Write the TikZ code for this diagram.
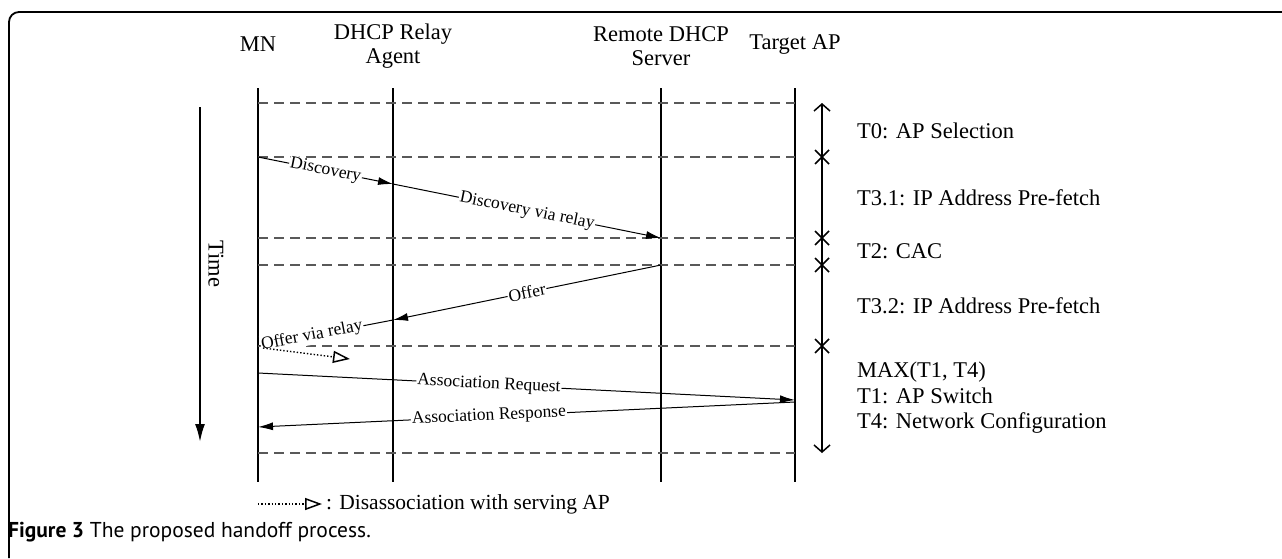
\documentclass[tikz,border=0pt]{standalone}
\usepackage{fontspec}
\setmainfont{Liberation Serif}
\newfontfamily\capfont{PT Sans}
\usetikzlibrary{arrows.meta}
\begin{document}
\begin{tikzpicture}[x=1pt,y=-1pt,
  head/.style={font=\fontsize{22.5}{24}\selectfont, align=center, inner sep=0pt},
  life/.style={line width=1.6pt},
  phase/.style={line width=1.3pt, draw=black!65, dash pattern=on 10pt off 6pt},
  msg/.style={line width=1pt, -{Latex[length=15pt,width=8pt]}},
  mlabel/.style={sloped, fill=white, inner sep=1pt, font=\fontsize{17.5}{20}\selectfont},
  side/.style={anchor=west, font=\fontsize{22.5}{25.5}\selectfont, inner sep=0pt},
  tick/.style={line width=1.5pt},
  disc/.style={dotted, line width=1.4pt, -{Triangle[open,length=17pt,width=12pt,line width=1.5pt]}},
]
\useasboundingbox (0,0) rectangle (1282,558);

% frame
\draw[line width=1.8pt, rounded corners=10pt] (9,558) -- (9,12) -- (1282,12);

% headers
\node[head] (hMN) at (258,44) {MN};
\node[head] (hRA) at (393,46) {DHCP Relay\\Agent};
\node[head] (hRS) at (661,46) {Remote DHCP\\Server};
\node[head] (hAP) at (795,44) {Target AP};

% lifelines
\foreach \n/\x in {mn/258, ra/393, rs/661, ap/795} {
  \coordinate (\n top) at (\x,88);
  \coordinate (\n bot) at (\x,482);
  \draw[life] (\n top) -- (\n bot);
}

% phase separators
\foreach \i/\y in {0/103, 1/157, 2/238, 3/265, 4/346, 5/453} {
  \coordinate (L\i) at (258,\y);
  \coordinate (R\i) at (795,\y);
  \draw[phase] (L\i) -- (R\i);
}

% message end points
\coordinate (m1) at (258,157);
\coordinate (a1) at (393,184);
\coordinate (s1) at (661,238);
\coordinate (s2) at (661,265);
\coordinate (a2) at (393,320);
\coordinate (m2) at (258,346);
\coordinate (m3) at (258,373);
\coordinate (p1) at (795,400);
\coordinate (p2) at (795,402);
\coordinate (m4) at (258,427);
\coordinate (d0) at (263,348);
\coordinate (d1) at (350,359);

% messages
\draw[msg] (m1) -- node[mlabel,pos=0.5] {Discovery} (a1);
\draw[msg] (a1) -- node[mlabel,pos=0.5] {Discovery via relay} (s1);
\draw[msg] (s2) -- node[mlabel,pos=0.5] {Offer} (a2);
\draw[msg] (a2) -- node[mlabel,pos=0.6] {Offer via relay} (m2);
\draw[disc] (d0) -- (d1);
\draw[msg] (m3) -- node[mlabel,pos=0.43] {Association Request} (p1);
\draw[msg] (p2) -- node[mlabel,pos=0.57] {Association Response} (m4);

% time direction
\coordinate (t0) at (200,107);
\coordinate (t1) at (200,442);
\draw[line width=2pt, -{Latex[length=18pt,width=10pt]}] (t0) -- (t1);
\node[rotate=-90, font=\fontsize{22.5}{24}\selectfont] (time) at (216,264) {Time};

% phase durations
\coordinate (k0) at (822,103);
\coordinate (k5) at (822,453);
\draw[tick, {Straight Barb[length=7pt,width=16pt]}-{Straight Barb[length=7pt,width=16pt]}] (k0) -- (k5);
\foreach \y in {157, 238, 265, 346} {
  \draw[tick] (815,\y-7) -- (829,\y+7);
  \draw[tick] (815,\y+7) -- (829,\y-7);
}
\node[side] (t0lab) at (857,131) {T0: AP Selection};
\node[side] (t31lab) at (857,198) {T3.1: IP Address Pre-fetch};
\node[side] (t2lab) at (857,251) {T2: CAC};
\node[side] (t32lab) at (857,306) {T3.2: IP Address Pre-fetch};
\node[side, align=left] (maxlab) at (857,398) {MAX(T1, T4)\\T1: AP Switch\\T4: Network Configuration};

% legend
\coordinate (g0) at (258,504);
\coordinate (g1) at (322,504);
\draw[disc] (g0) -- (g1);
\node[side, font=\fontsize{21.5}{24}\selectfont] (leg) at (326,504) {: Disassociation with serving AP};

% caption
\node[anchor=west, inner sep=0pt, font=\capfont\fontsize{21.5}{24}\selectfont] (cap) at (8,532)
  {\textbf{Figure 3} The proposed handoff process.};
\end{tikzpicture}
\end{document}
